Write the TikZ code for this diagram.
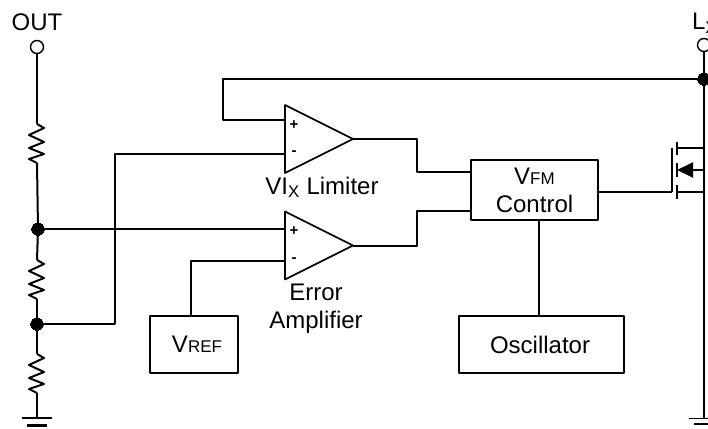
\documentclass[tikz,border=0pt]{standalone}
\usepackage{fontspec}
\setmainfont{Liberation Sans}
\usetikzlibrary{arrows.meta,shapes.geometric}
\newcommand{\subsm}[1]{{\fontsize{17}{18}\selectfont #1}}
\tikzset{
  res/.style = {to path={-- ++(7,4) -- ++(-15,7) -- ++(15,7) -- ++(-15,6) -- ++(15,6) -- ++(-15,5) -- (\tikztotarget)}},
}
\begin{document}
\begin{tikzpicture}[x=1pt, y=-1pt, line width=2pt, line join=round,
    every node/.style = {font=\fontsize{24}{28}\selectfont},
    term/.style = {draw, circle, line width=1.4pt, minimum size=13pt, inner sep=0pt},
    dot/.style = {draw, fill, circle, minimum size=12.5pt, inner sep=0pt, line width=0pt},
    pt/.style = {inner sep=0pt, minimum size=0pt, outer sep=0pt},
    block/.style = {draw, line width=1.7pt, inner sep=0pt, align=center},
    amp/.style = {draw, isosceles triangle, isosceles triangle stretches, shape border rotate=0, minimum height=68pt, minimum width=68pt, inner sep=0pt, outer sep=0pt, line width=1.7pt, anchor=apex},
    sign/.style = {font=\bfseries\fontsize{15}{15}\selectfont, inner sep=0pt},
    label/.style = {inner sep=0pt, align=center},
    bar/.style = {line width=1.5pt}]
  \useasboundingbox (0,0) rectangle (708,428);

  % left divider
  \node[term] (out) at (37,47) {};
  \node[label] (outlbl) at (37,22) {OUT};
  \node[pt] (r1a) [below of=out, node distance=77pt] {};
  \node[pt] (r1b) [below of=r1a, node distance=39pt] {};
  \node[dot] (n1) at (38,229) {};
  \node[pt] (r2a) at (37,260) {};
  \node[pt] (r2b) [below of=r2a, node distance=39pt] {};
  \node[dot] (n2) at (37,324) {};
  \node[pt] (r3a) at (37,354) {};
  \node[pt] (r3b) [below of=r3a, node distance=39pt] {};
  \node[pt] (gnd1) at (37,418) {};
  \node[pt] (gnd1l) [left of=gnd1, node distance=15pt] {};
  \node[pt] (gnd1r) [right of=gnd1, node distance=15pt] {};
  \node[pt] (gnd2l) at (27,425) {};
  \node[pt] (gnd2r) [right of=gnd2l, node distance=20pt] {};

  % amplifiers
  \node[amp] (lim) at (353,139) {};
  \node[amp] (err) at (353,245.5) {};
  \node[sign] (limp) at (294,125) {+};
  \node[sign] (limm) at (294,153) {-};
  \node[sign] (errp) at (294,231) {+};
  \node[sign] (errm) at (294,260) {-};
  \node[label, anchor=base] (limlbl) at (322,194) {VI\textsubscript{X} Limiter};
  \node[label] (errlbl) at (316,309) {Error\\Amplifier};
  \node[pt] (limpin) at (285,120) {};
  \node[pt] (limmin) at (285,154) {};
  \node[pt] (errpin) at (285,229) {};
  \node[pt] (errmin) at (285,261) {};

  % blocks
  \node[block, minimum width=127pt, minimum height=60pt] (ctrl) at (534.5,190) {\raisebox{-1.5pt}{V\subsm{FM}}\\\raisebox{-1.5pt}{Control}};
  \node[block, minimum width=165pt, minimum height=57pt] (osc) at (541.5,344.5) {\hspace*{-3pt}Oscillator};
  \node[block, minimum width=88pt, minimum height=57pt] (vref) at (194,344.5) {\hspace*{6pt}V\subsm{REF}};
  \node[pt] (ctrla) at (471,172) {};
  \node[pt] (ctrlb) at (471,211) {};

  % switch
  \node[term] (lx) at (704,45) {};
  \node[label, anchor=base west] (lxlbl) at (691,30) {L\textsubscript{X}};
  \node[dot] (n3) at (704,79) {};
  \node[pt] (d) at (704,148) {};
  \node[pt] (dg) [left of=d, node distance=27pt] {};
  \node[pt] (b) at (704,170) {};
  \node[pt] (bg) [left of=b, node distance=27pt] {};
  \node[pt] (s) at (704,192) {};
  \node[pt] (sg) [left of=s, node distance=27pt] {};
  \node[pt] (gt) at (672,148) {};
  \node[pt] (gb) at (672,192) {};
  \node[pt] (g3) at (704,418.5) {};
  \node[pt] (g3l) at (689,418.5) {};
  \node[pt] (g3r) at (708,418.5) {};
  \node[pt] (g3bl) at (694,424) {};
  \node[pt] (g3br) at (708,424) {};

  \draw (out) to (r1a);
  \draw (r1a) to[res] (r1b);
  \draw (r1b) to (n1);
  \draw (n1) to (r2a);
  \draw (r2a) to[res] (r2b);
  \draw (r2b) to (n2);
  \draw (n2) to (r3a);
  \draw (r3a) to[res] (r3b);
  \draw (r3b) to (gnd1);
  \draw[bar] (gnd1l) to (gnd1r);
  \draw[line width=3pt] (gnd2l) to (gnd2r);

  \draw (n1) to (errpin);
  \draw (n2) -| (115,154) to (limmin);
  \draw (limpin) -| (223,79) to (n3);
  \draw (vref.north -| 191,0) |- (errmin);
  \draw (lim.apex) -| (417,172) to (ctrla);
  \draw (err.apex) -| (417,211) to (ctrlb);
  \draw (ctrl.south -| 539,0) to (osc.north -| 539,0);

  \draw (lx) to (n3);
  \draw (n3) to (d);
  \draw (d) to (dg);
  \draw (d) to (b);
  \draw[{Triangle[length=16pt,width=15pt]}-] (bg) to (b);
  \draw (b) to (s);
  \draw (s) to (sg);
  \draw (s) to (g3);
  \draw[bar] (g3l) to (g3r);
  \draw[bar] (g3bl) to (g3br);
  \draw (gt) to (gb);
  \draw (ctrl.east |- gb) to (gb);
  \draw (677,142) to (677,155);
  \draw (677,163) to (677,177);
  \draw (677,185) to (677,199);
\end{tikzpicture}
\end{document}
